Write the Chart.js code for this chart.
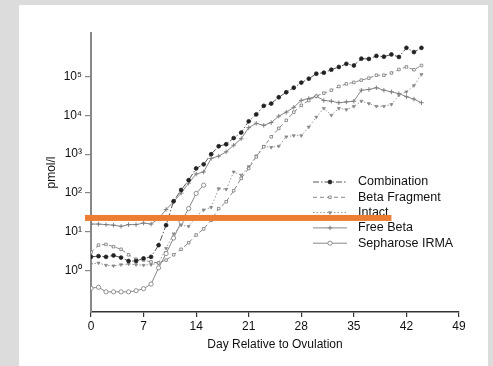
<!DOCTYPE html>
<html>
<head>
<meta charset="utf-8">
<script src="https://cdn.jsdelivr.net/npm/chart.js@4.4.1/dist/chart.umd.min.js"></script>
<style>
  html, body { margin: 0; padding: 0; }
  body { width: 493px; height: 366px; background: #dcdcdc; overflow: hidden; position: relative; }
  #panel { position: absolute; left: 19px; top: 5px; width: 469px; height: 361px; background: #fff; }
  canvas { display: block; }
</style>
</head>
<body>
<div id="panel"><canvas id="myChart" width="469" height="361"></canvas></div>
<script>
// day relative to ovulation
var days = [0, 1, 2, 3, 4, 5, 6, 7, 8, 9, 10, 11, 12, 13, 14, 15, 16, 17, 18, 19, 20, 21, 22,
  23, 24, 25, 26, 27, 28, 29, 30, 31, 32, 33, 34, 35, 36, 37, 38, 39, 40, 41, 42, 43, 44];

// pmol/l
var combination = [2.3, 2.4, 2.3, 2.5, 2.2, 1.8, 1.8, 2.1, 2.3, 4.6, 15, 62, 120, 215, 430,
  550, 1000, 1600, 1800, 2600, 3600, 7000, 10500, 17500, 20000, 29000, 39000, 51000, 69000,
  87000, 117000, 124000, 148000, 174000, 210000, 190000, 285000, 280000, 335000, 320000,
  365000, 315000, 540000, 420000, 540000];
var betaFragment = [3.0, 4.6, 4.8, 4.2, 3.6, 2.6, 2.0, 1.9, 1.7, 1.6, 1.9, 2.6, 3.6, 5.3, 8.4,
  12, 20, 40, 60, 115, 240, 430, 850, 1550, 2800, 4600, 7400, 12000, 18000, 24000, 31000,
  37000, 44000, 55000, 64000, 70000, 80000, 90000, 107000, 107000, 122000, 150000, 175000,
  148000, 190000];
var intact = [1.5, 1.6, 1.4, 1.35, 1.45, 1.5, 1.45, 1.4, 1.45, 1.6, 3.8, 9, 15, 14, 25, 37, 43,
  130, 125, 350, 290, 480, 900, 1600, 1500, 1600, 2800, 3000, 3000, 5000, 9000, 15000, 10000,
  15000, 14000, 17000, 23000, 20000, 17000, 17000, 19000, 33000, 40000, 58000, 112000];
var freeBeta = [16, 16, 15.5, 15, 14, 15.5, 15.5, 17, 16, 22, 38, 60, 100, 180, 310, 350, 780,
  890, 1150, 1700, 2500, 4800, 6200, 5500, 6500, 9500, 12000, 16000, 24000, 27000, 31000,
  24000, 23000, 21000, 22000, 23000, 44000, 46000, 51000, 44000, 40000, 36000, 30000, 26000,
  21000];
var sepharoseIrma = [0.36, 0.38, 0.29, 0.29, 0.29, 0.29, 0.31, 0.35, 0.46, 1.2, 2.8, 7, 18, 40,
  98, 160];

var seriesNames = ['Combination', 'Beta Fragment', 'Intact', 'Free Beta', 'Sepharose IRMA'];
var xTicks = [0, 7, 14, 21, 28, 35, 42, 49];
var yTicks = [1, 10, 100, 1000, 10000, 100000];
var yTickLabels = ['10\u2070', '10\u00b9', '10\u00b2', '10\u00b3', '10\u2074', '10\u2075'];

var fontFamily = "'Liberation Sans', Arial, Helvetica, sans-serif";

function points(values) {
  return values.map(function(v, i) { return {x: days[i], y: v}; });
}

var datasets = [
  {
    label: seriesNames[0], data: points(combination),
    borderColor: '#555', borderWidth: 1, borderDash: [6, 2, 1.5, 2],
    pointStyle: 'circle', pointRadius: 1.9, pointBackgroundColor: '#222', pointBorderColor: '#222',
    pointBorderWidth: 0.8
  },
  {
    label: seriesNames[1], data: points(betaFragment),
    borderColor: '#888', borderWidth: 1, borderDash: [4, 3],
    pointStyle: 'rect', pointRadius: 1.8, pointBackgroundColor: '#fff', pointBorderColor: '#777',
    pointBorderWidth: 0.8
  },
  {
    label: seriesNames[2], data: points(intact),
    borderColor: '#999', borderWidth: 1, borderDash: [1.5, 2],
    pointStyle: 'triangle', pointRotation: 180, pointRadius: 1.8, pointBackgroundColor: '#888',
    pointBorderColor: '#888', pointBorderWidth: 0.7
  },
  {
    label: seriesNames[3], data: points(freeBeta),
    borderColor: '#888', borderWidth: 1,
    pointStyle: 'cross', pointRadius: 2.3, pointBackgroundColor: '#777', pointBorderColor: '#777',
    pointBorderWidth: 0.9
  },
  {
    label: seriesNames[4], data: points(sepharoseIrma),
    borderColor: '#888', borderWidth: 1,
    pointStyle: 'circle', pointRadius: 2.1, pointBackgroundColor: '#fff', pointBorderColor: '#777',
    pointBorderWidth: 0.8
  }
];

// legend sits inside the plot, lower right
var insideLegend = {
  id: 'insideLegend',
  afterDatasetsDraw: function(chart) {
    var ctx = chart.ctx;
    ctx.save();
    chart.data.datasets.forEach(function(ds, i) {
      var y = 177 + i * 15.3;
      ctx.strokeStyle = ds.borderColor;
      ctx.lineWidth = 1;
      ctx.setLineDash(ds.borderDash || []);
      ctx.beginPath();
      ctx.moveTo(294, y);
      ctx.lineTo(328, y);
      ctx.stroke();
      ctx.setLineDash([]);
      ctx.fillStyle = ds.pointBackgroundColor;
      ctx.strokeStyle = ds.pointBorderColor;
      ctx.lineWidth = ds.pointBorderWidth;
      Chart.helpers.drawPoint(ctx, {
        pointStyle: ds.pointStyle, rotation: ds.pointRotation || 0,
        radius: ds.pointRadius, borderWidth: ds.pointBorderWidth
      }, 311, y);
      ctx.fillStyle = '#111';
      ctx.font = '12.5px ' + fontFamily;
      ctx.textBaseline = 'middle';
      ctx.textAlign = 'left';
      ctx.fillText(ds.label, 339, y);
    });
    ctx.restore();
  }
};

// the orange strip laid over the scan
var orangeBar = {
  id: 'orangeBar',
  afterDraw: function(chart) {
    var ctx = chart.ctx;
    var x0 = chart.scales.x.getPixelForValue(-0.8);
    var x1 = chart.scales.x.getPixelForValue(40);
    var yc = chart.scales.y.getPixelForValue(23);
    ctx.save();
    ctx.fillStyle = '#ed7d31';
    ctx.fillRect(x0, yc - 3, x1 - x0, 6);
    ctx.restore();
  }
};

var ctx = document.getElementById('myChart');
var myChart = new Chart(ctx, {
  type: 'line',
  data: { datasets: datasets },
  plugins: [insideLegend, orangeBar],
  options: {
    responsive: false,
    animation: false,
    layout: { padding: { top: 28, right: 29, left: 0, bottom: 0 } },
    plugins: {
      legend: { display: false },
      tooltip: { enabled: false }
    },
    elements: { line: { tension: 0 } },
    scales: {
      x: {
        type: 'linear', min: 0, max: 49,
        afterBuildTicks: function(scale) {
          scale.ticks = xTicks.map(function(v) { return {value: v}; });
        },
        afterFit: function(scale) { scale.height = 54; },
        border: { display: true, color: '#333', width: 1.5 },
        grid: { drawOnChartArea: false, drawTicks: true, tickLength: 5, color: '#333', lineWidth: 1.2 },
        ticks: { color: '#111', padding: 2, maxRotation: 0, font: { family: fontFamily, size: 12 } },
        title: {
          display: true, text: 'Day Relative to Ovulation', color: '#111',
          padding: { top: 0, bottom: 14 }, font: { family: fontFamily, size: 12 }
        }
      },
      y: {
        type: 'logarithmic', min: 0.088, max: 1300000,
        afterBuildTicks: function(scale) {
          scale.ticks = yTicks.map(function(v) { return {value: v}; });
        },
        afterFit: function(scale) { scale.width = 72; },
        border: { display: true, color: '#888', width: 2 },
        grid: { drawOnChartArea: false, drawTicks: true, tickLength: 6, color: '#888', lineWidth: 1.2 },
        ticks: {
          color: '#111', padding: 3, font: { family: fontFamily, size: 12 },
          callback: function(value) {
            var i = yTicks.indexOf(value);
            return i >= 0 ? yTickLabels[i] : '';
          }
        },
        title: {
          display: true, text: 'pmol/l', color: '#111',
          padding: { top: 25, bottom: 0 }, font: { family: fontFamily, size: 12 }
        }
      }
    }
  }
});
</script>
</body>
</html>
